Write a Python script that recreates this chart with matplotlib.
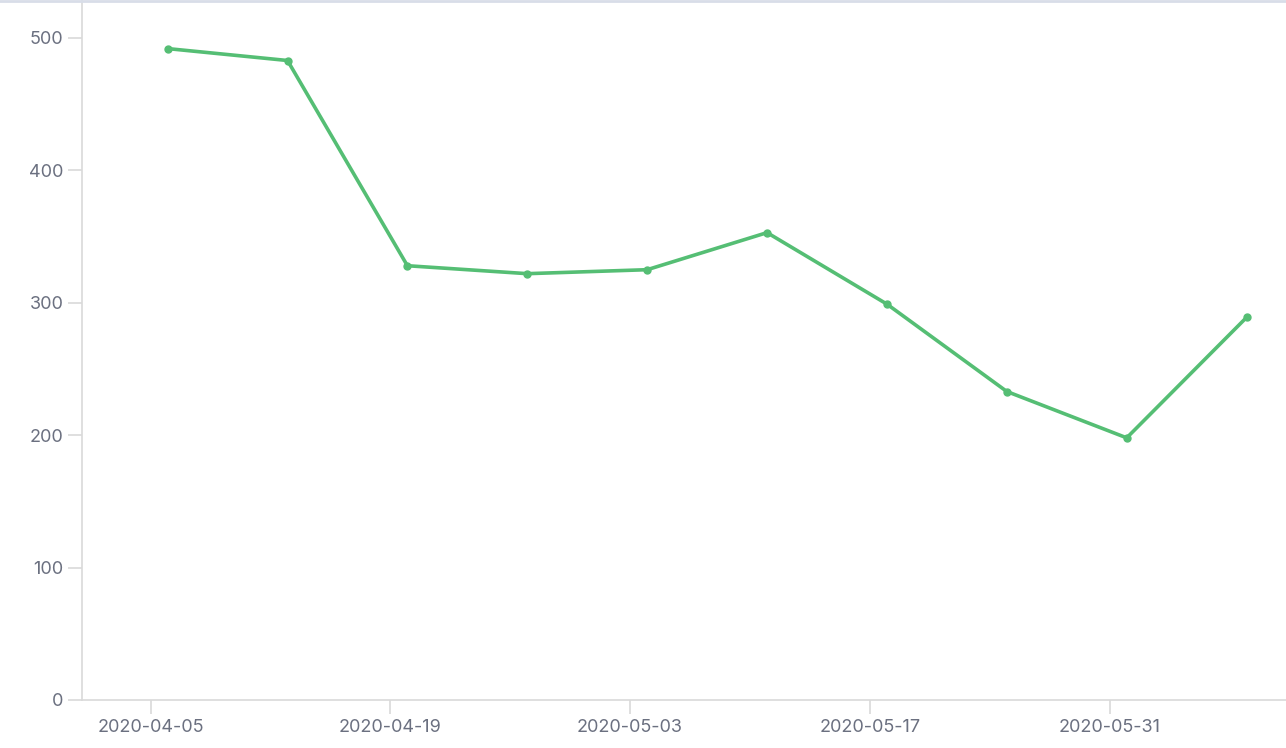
import matplotlib
matplotlib.use("Agg")
import matplotlib.pyplot as plt
import matplotlib.dates as mdates
import numpy as np
import pandas as pd

DATES = pd.to_datetime([
    "2020-04-06", "2020-04-13", "2020-04-20", "2020-04-27", "2020-05-04",
    "2020-05-11", "2020-05-18", "2020-05-25", "2020-06-01", "2020-06-08",
])
VALUES = [492, 483, 328, 322, 325, 353, 299, 233, 198, 289]
XTICKS = pd.to_datetime(["2020-04-05", "2020-04-19", "2020-05-03", "2020-05-17", "2020-05-31"])
YTICKS = [0, 100, 200, 300, 400, 500]

GREEN = "#55be74"
AXIS = "#d9d9d9"
TEXT = "#6b7080"

plt.rcParams["font.family"] = ["Inter", "DejaVu Sans"]

fig = plt.figure(figsize=(12.86, 7.48), dpi=100)
ax = fig.add_axes([82 / 1286, 1 - 700 / 748, 1 - 82 / 1286, 700 / 748])
ax.plot(DATES, VALUES, color=GREEN, linewidth=2.6, marker="o", markersize=5, solid_joinstyle="round")

ax.set_xlim(pd.Timestamp("2020-04-01"), pd.Timestamp("2020-04-01") + pd.Timedelta(days=70.3))
ax.set_ylim(0, 528.7)
ax.set_xticks(XTICKS)
ax.xaxis.set_major_formatter(mdates.DateFormatter("%Y-%m-%d"))
ax.set_yticks(YTICKS)

for side in ("top", "right"):
    ax.spines[side].set_visible(False)
for side in ("left", "bottom"):
    ax.spines[side].set_color(AXIS)
    ax.spines[side].set_linewidth(1.2)
ax.tick_params(colors=AXIS, labelcolor=TEXT, labelsize=13, length=10, width=1.2)
ax.tick_params(axis="x", pad=4)

fig.add_artist(plt.Line2D([0, 1], [0.998, 0.998], color="#d8dde8", linewidth=2, transform=fig.transFigure))

fig.savefig("out.png", dpi=100)
